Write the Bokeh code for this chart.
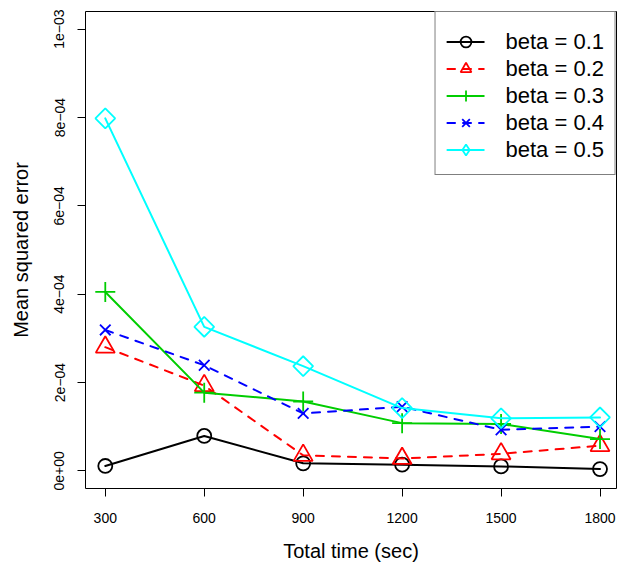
import math
from bokeh.plotting import figure
from bokeh.models import Legend, LegendItem, FixedTicker, ColumnDataSource
from bokeh.embed import file_html
from bokeh.resources import INLINE

# ---- data ----
total_time = [300, 600, 900, 1200, 1500, 1800]
mse_beta_01 = [1.1e-5, 7.9e-5, 1.7e-5, 1.4e-5, 1.0e-5, 4.0e-6]
mse_beta_02 = [2.8e-4, 1.93e-4, 3.5e-5, 2.8e-5, 3.85e-5, 5.7e-5]
mse_beta_03 = [4.05e-4, 1.77e-4, 1.57e-4, 1.08e-4, 1.06e-4, 7.2e-5]
mse_beta_04 = [3.19e-4, 2.39e-4, 1.30e-4, 1.45e-4, 9.3e-5, 1.0e-4]
mse_beta_05 = [7.98e-4, 3.26e-4, 2.37e-4, 1.42e-4, 1.19e-4, 1.21e-4]
series_labels = ["beta = 0.1", "beta = 0.2", "beta = 0.3", "beta = 0.4", "beta = 0.5"]

x_ticks = [300, 600, 900, 1200, 1500, 1800]
y_ticks = [0.0, 2e-4, 4e-4, 6e-4, 8e-4, 1e-3]
y_tick_labels = ["0e+00", "2e\u221204", "4e\u221204", "6e\u221204", "8e\u221204", "1e\u221203"]

FONT = "Liberation Sans"

p = figure(width=617, height=564, x_range=(240, 1850), y_range=(-4e-5, 1.04e-3),
           output_backend="svg", toolbar_location=None,
           min_border_left=85, min_border_right=1, min_border_top=11, min_border_bottom=76)
p.background_fill_color = "white"
p.border_fill_color = "white"
p.outline_line_color = "black"
p.outline_line_width = 1
p.xgrid.visible = False
p.ygrid.visible = False

# axes
p.xaxis.ticker = FixedTicker(ticks=x_ticks)
p.yaxis.ticker = FixedTicker(ticks=y_ticks)
p.yaxis.major_label_overrides = {t: l for t, l in zip(y_ticks, y_tick_labels)}
p.yaxis.major_label_orientation = "vertical"
for ax in (p.xaxis, p.yaxis):
    ax.axis_line_color = None
    ax.major_tick_line_color = "black"
    ax.major_tick_line_width = 1
    ax.major_tick_out = 8
    ax.major_tick_in = 0
    ax.minor_tick_line_color = None
    ax.major_label_text_font = FONT
    ax.major_label_text_font_size = "14px"
    ax.major_label_text_color = "black"
    ax.axis_label_text_font = FONT
    ax.axis_label_text_font_size = "20px"
    ax.axis_label_text_font_style = "normal"
    ax.axis_label_text_color = "black"
p.xaxis.axis_label = "Total time (sec)"
p.yaxis.axis_label = "Mean squared error"
p.xaxis.major_label_standoff = 16
p.xaxis.axis_label_standoff = 14
p.yaxis.major_label_standoff = 13
p.yaxis.axis_label_standoff = 20

series = [
    (mse_beta_01, "black", "solid", "circle", 14, 0.0, "circle"),
    (mse_beta_02, "#FF0000", "8 8", "triangle", 19, 0.0, "triangle"),
    (mse_beta_03, "#00CD00", "solid", "cross", 20, 0.0, "cross"),
    (mse_beta_04, "#0000FF", "8 8", "x", 15, 0.0, "x"),
    (mse_beta_05, "#00FFFF", "solid", "square", 14, math.pi / 4, "diamond"),
]

items = []
for (vals, color, dash, marker, size, ang, leg_marker), label in zip(series, series_labels):
    src = ColumnDataSource(dict(x=total_time, y=vals))
    lr = p.line("x", "y", source=src, line_color=color, line_width=2,
                line_dash=dash, line_cap="round")
    sr = p.scatter("x", "y", source=src, marker=marker, size=size, angle=ang,
                   line_color=color, line_width=1.8, fill_color=None)
    if leg_marker != marker:
        # legend-only proxy glyph (legend glyphs are never rotated); NaN point draws nothing
        proxy = ColumnDataSource(dict(x=[float("nan")], y=[float("nan")]))
        lg = p.scatter("x", "y", source=proxy, marker=leg_marker, size=size,
                       line_color=color, line_width=1.8, fill_color=None)
        items.append(LegendItem(label=label, renderers=[lr, lg]))
    else:
        items.append(LegendItem(label=label, renderers=[lr, sr]))

legend = Legend(items=items, location="top_right")
legend.margin = 0
legend.padding = 11
legend.spacing = 0
legend.glyph_width = 38
legend.glyph_height = 27
legend.label_height = 27
legend.label_standoff = 21
legend.label_text_font = FONT
legend.label_text_font_size = "22px"
legend.label_text_color = "black"
legend.border_line_color = "black"
legend.border_line_width = 1
legend.background_fill_color = "white"
legend.background_fill_alpha = 1.0
legend.title = " "
legend.title_text_font_size = "3px"
legend.title_standoff = 1
p.add_layout(legend)

open("out.html", "w").write(file_html(p, INLINE))
